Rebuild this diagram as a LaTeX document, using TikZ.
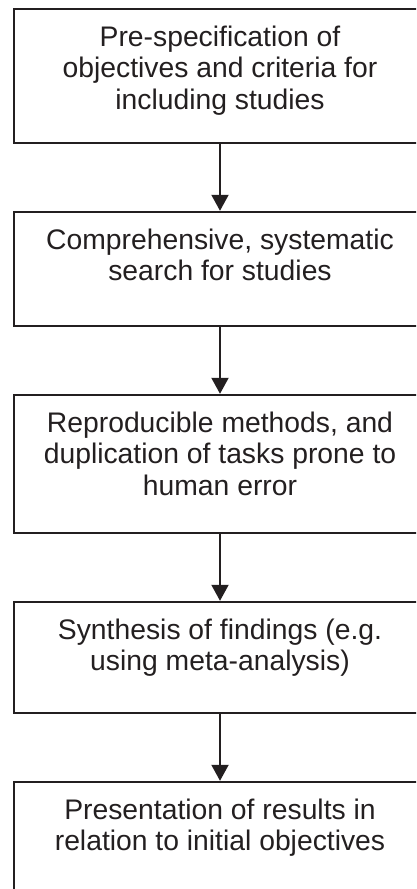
\documentclass[tikz,border=0pt]{standalone}
\usepackage{fontspec}
\setmainfont{Liberation Sans}
\usetikzlibrary{arrows.meta}
\definecolor{ink}{HTML}{231F20}
\newcommand{\boxtxt}[2]{\parbox[c][#1][t]{412pt}{\centering\fontsize{28.3}{31.5}\selectfont\rule{0pt}{37pt}#2}}
\tikzset{
  stage/.style={draw=ink, line width=2.4pt, rectangle, inner sep=0pt, text=ink},
  arr/.style={draw=ink, line width=2pt, -{Triangle[width=17pt,length=16pt]}}
}
\begin{document}
\begin{tikzpicture}[x=1pt,y=-1pt]
\clip (0,0) rectangle (416,889);
\node[stage] (b1) at (220,76) {\boxtxt{134pt}{Pre-specification of\\objectives and criteria for\\including studies}};
\node[stage] (b2) at (220,269) {\boxtxt{114pt}{Comprehensive, systematic\\search for studies}};
\node[stage] (b3) at (220,464) {\boxtxt{138pt}{Reproducible methods, and\\duplication of tasks prone to\\human error}};
\node[stage] (b4) at (220,657.5) {\boxtxt{111pt}{Synthesis of findings (e.g.\\using meta-analysis)}};
\node[stage] (b5) at (220,847) {\boxtxt{130pt}{Presentation of results in\\relation to initial objectives}};
\draw[arr] (b1.south) -- (b2.north);
\draw[arr] (b2.south) -- (b3.north);
\draw[arr] (b3.south) -- (b4.north);
\draw[arr] (b4.south) -- (b5.north);
\end{tikzpicture}
\end{document}
